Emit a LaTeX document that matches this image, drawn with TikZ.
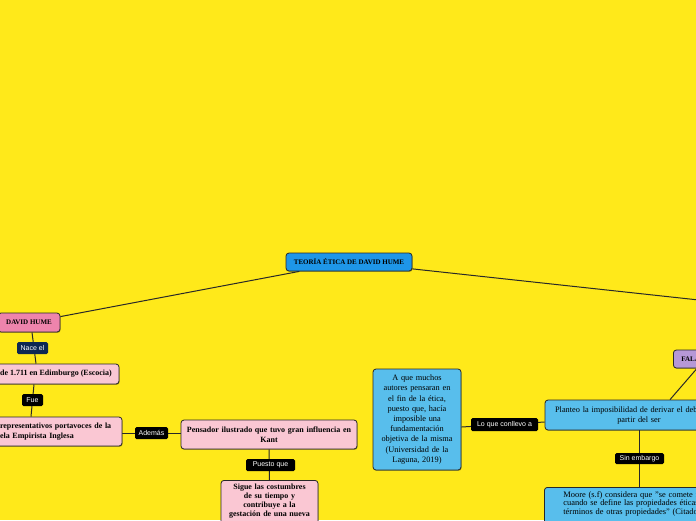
\documentclass[tikz,border=0pt]{standalone}
\usepackage{fontspec}
\setmainfont{Liberation Serif}
\setsansfont{Liberation Sans}
\usetikzlibrary{shadows}
\pgfdeclarelayer{bg}
\pgfdeclarelayer{wires}
\pgfsetlayers{bg,wires,main}
\definecolor{bgyellow}{RGB}{255,233,26}
\definecolor{rootblue}{RGB}{30,150,232}
\definecolor{lblue}{RGB}{88,190,236}
\definecolor{hpink}{RGB}{238,132,172}
\definecolor{lpink}{RGB}{250,199,211}
\definecolor{lav}{RGB}{182,152,214}
\definecolor{navy}{RGB}{14,40,82}
\definecolor{edge}{RGB}{40,40,40}
\begin{document}
\begin{tikzpicture}[x=1pt,y=-1pt,
  box/.style={draw=edge, line width=0.8pt, rounded corners=3pt, align=center, inner sep=0pt,
    drop shadow={shadow xshift=0.6pt, shadow yshift=-0.9pt, opacity=0.3, fill=black}},
  boldtxt/.style={font=\bfseries\fontsize{8}{10}\selectfont},
  captxt/.style={font=\bfseries\fontsize{7}{8}\selectfont},
  regtxt/.style={font=\fontsize{8.3}{10}\selectfont},
  tag/.style={fill=black, text=white, rounded corners=1.5pt, inner sep=0pt, minimum height=12pt,
    font=\sffamily\fontsize{7}{8}\selectfont},
  wire/.style={draw=edge, line width=1pt}]
\useasboundingbox (0,0) rectangle (696,520);
\begin{pgfonlayer}{bg}
\fill[bgyellow] (0,0) rectangle (696,520);
\end{pgfonlayer}

% nodes
\node[box, captxt, fill=rootblue, minimum width=126pt, minimum height=18pt] (root) at (349,262) {TEORÍA ÉTICA DE DAVID HUME};
\node[box, captxt, fill=hpink, minimum width=62pt, minimum height=19pt] (hume) at (29,322.5) {DAVID HUME};
\node[tag, fill=navy, minimum width=31pt] (nace) at (32.5,348) {Nace el};
\node[box, boldtxt, fill=lpink, minimum width=126pt, minimum height=20pt] (fecha) at (56,374) {de 1.711 en Edimburgo (Escocia)};
\node[tag, minimum width=21pt] (fue) at (32.5,400) {Fue};
\node[box, boldtxt, fill=lpink, align=left, text width=112pt, inner xsep=10pt, minimum height=29pt] (escuela) at (56,431.5) {representativos portavoces de la\\ela Empirista Inglesa};
\node[tag, minimum width=33pt] (ademas) at (151.5,433) {Además};
\node[box, boldtxt, fill=lpink, text width=170pt, minimum width=176pt, minimum height=29pt] (pensador) at (269,434.5) {Pensador ilustrado que tuvo gran influencia en\\Kant};
\node[tag, minimum width=49pt] (puesto) at (270.5,465) {Puesto que};
\node[box, font=\bfseries\fontsize{8}{9}\selectfont, fill=lpink, text width=91pt, minimum width=97pt, inner ysep=4pt, anchor=north] (sigue) at (269.5,480) {Sigue las costumbres\\de su tiempo y\\contribuye a la\\gestación de una nueva\\\mbox{}\\\mbox{}};
\node[box, font=\fontsize{8.3}{10.2}\selectfont, fill=lblue, text width=84pt, minimum width=88pt, minimum height=101pt] (aque) at (417,419.5) {A que muchos\\autores pensaran en\\el fin de la ética,\\puesto que, hacía\\imposible una\\fundamentación\\objetiva de la misma\\(Universidad de la\\Laguna, 2019)};
\node[tag, minimum width=67pt, minimum height=13pt] (loque) at (504.5,424.5) {Lo que conllevo a};
\node[box, regtxt, fill=lblue, text width=182pt, minimum width=188pt, minimum height=30pt] (planteo) at (639,415) {Planteo la imposibilidad de derivar el deber ser a\\partir del ser};
\node[box, captxt, fill=lav, inner xsep=8pt, minimum height=18pt, anchor=west] (fal) at (673,359) {FALACIA NATURALISTA};
\node[tag, minimum width=49pt, minimum height=11pt] (sinemb) at (639.5,458.5) {Sin embargo};
\node[box, font=\fontsize{8.4}{8.6}\selectfont, fill=lblue, align=left, text width=240pt, inner xsep=19pt, inner ysep=4pt, anchor=north west] (moore) at (544,487) {Moore (s.f) considera que "se comete falacia\\cuando se define las propiedades éticas en\\términos de otras propiedades" (Citado\\\mbox{}\\\mbox{}};
\coordinate (offR) at (800,311);

% connectors
\begin{pgfonlayer}{wires}
\draw[wire] (root) -- (hume);
\draw[wire] (root) -- (offR);
\draw[wire] ([xshift=3pt]hume.south) -- ([xshift=-20pt]fecha.north);
\draw[wire] ([xshift=-22pt]fecha.south) -- ([xshift=-25pt]escuela.north);
\draw[wire] (escuela.east |- ademas) -- (pensador.west |- ademas);
\draw[wire] (pensador.south) -- (sigue.north);
\draw[wire] ([yshift=-7.5pt]aque.east) -- (loque.center) -- ([yshift=-7pt]planteo.west);
\draw[wire] ([xshift=31pt]planteo.north) -- ([xshift=24pt]fal.south west);
\draw[wire] (planteo.south -| sinemb) -- (moore.north -| sinemb);
\end{pgfonlayer}
\end{tikzpicture}
\end{document}
